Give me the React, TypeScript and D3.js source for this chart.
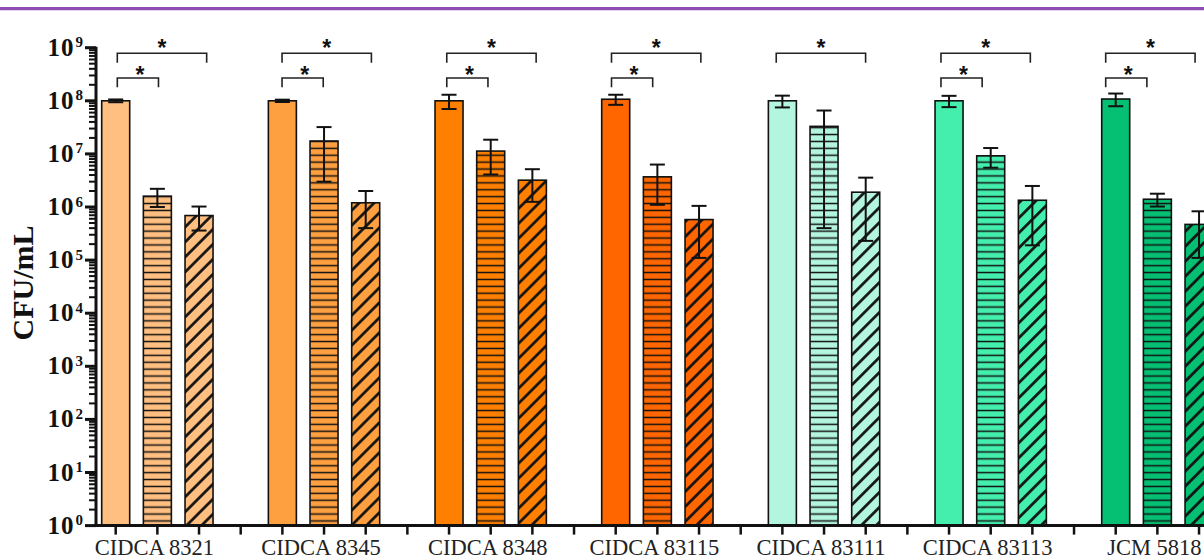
import React from 'react';
import * as d3 from 'd3';

const groups = ['CIDCA 8321', 'CIDCA 8345', 'CIDCA 8348', 'CIDCA 83115', 'CIDCA 83111', 'CIDCA 83113', 'JCM 5818'];
const fillColors = ['#FFBF80', '#FFA040', '#FF8000', '#FF6600', '#B3F5DE', '#44EFAE', '#05BF73'];
const ctrlMean = [1.0e8, 1.0e8, 1.0e8, 1.07e8, 1.0e8, 1.0e8, 1.08e8];
const ctrlSD = [6e6, 5e6, 3e7, 2.3e7, 2.5e7, 2.4e7, 2.9e7];
const stripeMean = [1.6e6, 1.75e7, 1.13e7, 3.7e6, 3.3e7, 9.2e6, 1.4e6];
const stripeSD = [6e5, 1.45e7, 7.2e6, 2.6e6, 3.26e7, 3.7e6, 3.8e5];
const diagMean = [6.9e5, 1.2e6, 3.2e6, 5.8e5, 1.9e6, 1.34e6, 4.7e5];
const diagSD = [3.3e5, 8e5, 1.95e6, 4.7e5, 1.67e6, 1.15e6, 3.6e5];
const lowerSig = [true, true, true, true, false, true, true];
const upperSig = [true, true, true, true, true, true, true];
const yExponents = [0, 1, 2, 3, 4, 5, 6, 7, 8, 9];
const yLabel = 'CFU/mL';
const sigMark = '*';

export default function App() {
  const W = 1204;
  const H = 559;
  const axisX = 96;
  const slots = groups.length * 4;
  const y = d3.scaleLog().domain([1, 1e9]).range([525.6, 47.7]);
  const x = d3.scaleLinear().domain([0, slots - 1]).range([115.7, 115.7 + (slots - 1) * 41.667]);
  const bx = d3.scaleLinear().domain([0, 24]).range([117.3, 1105.7]);
  const barW = 28;
  const baseY = y(1);

  const series = [
    { mean: ctrlMean, sd: ctrlSD, kind: 'solid' },
    { mean: stripeMean, sd: stripeSD, kind: 'h' },
    { mean: diagMean, sd: diagSD, kind: 'd' },
  ];

  const minorTicks: number[] = [];
  yExponents.slice(0, -1).forEach((e) => {
    for (let m = 2; m <= 9; m++) minorTicks.push(m * Math.pow(10, e));
  });

  return (
    <svg width={W} height={H} style={{ position: 'absolute', left: 0, top: 0, background: '#fff' }}>
      <defs>
        {groups.map((g, gi) => (
          <React.Fragment key={g}>
            <pattern id={`h-${gi}`} patternUnits="userSpaceOnUse" width={8} height={6.9}>
              <rect width={8} height={6.9} fill={fillColors[gi]} />
              <line x1={0} x2={8} y1={3.45} y2={3.45} stroke="#111" strokeWidth={1.5} />
            </pattern>
            <pattern id={`d-${gi}`} patternUnits="userSpaceOnUse" width={10.6} height={10.6} patternTransform="rotate(45)">
              <rect width={10.6} height={10.6} fill={fillColors[gi]} />
              <line x1={5.3} x2={5.3} y1={0} y2={10.6} stroke="#111" strokeWidth={2.7} />
            </pattern>
          </React.Fragment>
        ))}
      </defs>

      <line x1={0} x2={W} y1={8.7} y2={8.7} stroke="#8E4DB5" strokeWidth={3.2} />

      {/* bars */}
      {groups.map((g, gi) =>
        series.map((s, si) => {
          const cx = x(gi * 4 + si);
          const v = s.mean[gi];
          const top = y(v);
          const fill = s.kind === 'solid' ? fillColors[gi] : `url(#${s.kind}-${gi})`;
          return (
            <rect key={`${g}-${si}`} x={cx - barW / 2} y={top} width={barW} height={baseY - top}
              fill={fill} stroke="#111" strokeWidth={1.6} />
          );
        })
      )}

      {/* error bars */}
      {groups.map((g, gi) =>
        series.map((s, si) => {
          const cx = x(gi * 4 + si);
          const v = s.mean[gi];
          const hi = y(v + s.sd[gi]);
          const lo = y(Math.max(v - s.sd[gi], 1));
          return (
            <g key={`e-${g}-${si}`} stroke="#111" strokeWidth={2}>
              <line x1={cx} x2={cx} y1={hi} y2={lo} />
              <line x1={cx - 7.5} x2={cx + 7.5} y1={hi} y2={hi} />
              <line x1={cx - 7.5} x2={cx + 7.5} y1={lo} y2={lo} />
            </g>
          );
        })
      )}

      {/* significance brackets */}
      {groups.map((g, gi) => {
        const s0 = gi * 4;
        const items = [];
        if (upperSig[gi]) {
          const x1 = bx(s0);
          const x2 = bx(s0 + 2.17);
          items.push(
            <g key="u">
              <path d={`M${x1},62.7V53.3H${x2}V62.7`} fill="none" stroke="#222" strokeWidth={1.6} />
              <text x={(x1 + x2) / 2} y={55.5} textAnchor="middle" fontFamily="Liberation Sans" fontWeight="bold" fontSize={23} fill="#111">{sigMark}</text>
            </g>
          );
        }
        if (lowerSig[gi]) {
          const x1 = bx(s0);
          const x2 = bx(s0 + 1);
          items.push(
            <g key="l">
              <path d={`M${x1},87.3V78H${x2}V87.3`} fill="none" stroke="#222" strokeWidth={1.6} />
              <text x={(x1 + x2) / 2 + 2} y={82.5} textAnchor="middle" fontFamily="Liberation Sans" fontWeight="bold" fontSize={23} fill="#111">{sigMark}</text>
            </g>
          );
        }
        return <g key={`b-${g}`}>{items}</g>;
      })}

      {/* y axis */}
      <line x1={axisX} x2={axisX} y1={y(1e9) - 1} y2={baseY + 1} stroke="#111" strokeWidth={3} />
      {minorTicks.map((t) => (
        <line key={`m${t}`} x1={89} x2={axisX} y1={y(t)} y2={y(t)} stroke="#111" strokeWidth={2} />
      ))}
      {yExponents.map((e) => (
        <g key={`y${e}`}>
          <line x1={85} x2={axisX} y1={y(Math.pow(10, e))} y2={y(Math.pow(10, e))} stroke="#111" strokeWidth={3} />
          <text x={83} y={y(Math.pow(10, e)) + 8} textAnchor="end" fontFamily="Liberation Serif" fontWeight="bold" fontSize={25} fill="#111">
            <tspan letterSpacing={1}>10</tspan>
            <tspan fontSize={15} dy={-8.5} dx={1}>{e}</tspan>
          </text>
        </g>
      ))}
      <text transform={`translate(33,283) rotate(-90)`} textAnchor="middle" fontFamily="Liberation Serif" fontWeight="bold" fontSize={30} fill="#111">{yLabel}</text>

      {/* x axis */}
      <line x1={axisX - 1.5} x2={W} y1={baseY} y2={baseY} stroke="#111" strokeWidth={3} />
      {d3.range(slots).map((i) => (
        <line key={`xt${i}`} x1={x(i)} x2={x(i)} y1={baseY} y2={baseY + 9} stroke="#111" strokeWidth={2.5} />
      ))}
      {groups.map((g, gi) => (
        <text key={`xl${g}`} x={x(gi * 4 + 1) - 3} y={555} textAnchor="middle" fontFamily="Liberation Serif" fontSize={22.5} fill="#222">{g}</text>
      ))}
    </svg>
  );
}
